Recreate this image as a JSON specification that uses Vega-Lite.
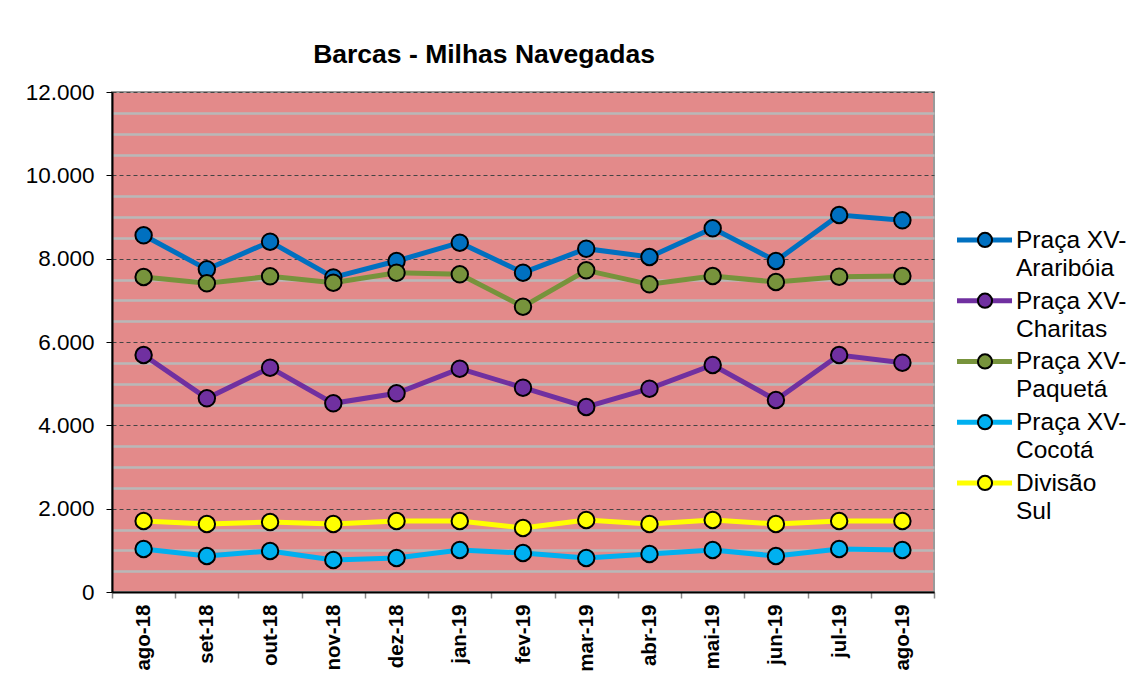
{
  "$schema": "https://vega.github.io/schema/vega-lite/v6.json",
  "background": "white",
  "padding": {"left": 24, "top": 41, "right": 0, "bottom": 0},
  "bounds": "flush",
  "center": true,
  "spacing": 6,
  "title": {
    "text": "Barcas - Milhas Navegadas",
    "font": "Liberation Sans",
    "fontSize": 26.5,
    "fontWeight": "bold",
    "color": "black",
    "anchor": "start",
    "dx": 289,
    "offset": 12
  },
  "config": {
    "font": "Liberation Sans",
    "view": {"stroke": null}
  },
  "datasets": {
    "dados": [
      {"mes": "ago-18", "serie": "Praça XV-Araribóia", "valor": 8561},
      {"mes": "set-18", "serie": "Praça XV-Araribóia", "valor": 7744},
      {"mes": "out-18", "serie": "Praça XV-Araribóia", "valor": 8408},
      {"mes": "nov-18", "serie": "Praça XV-Araribóia", "valor": 7550},
      {"mes": "dez-18", "serie": "Praça XV-Araribóia", "valor": 7944},
      {"mes": "jan-19", "serie": "Praça XV-Araribóia", "valor": 8384},
      {"mes": "fev-19", "serie": "Praça XV-Araribóia", "valor": 7664},
      {"mes": "mar-19", "serie": "Praça XV-Araribóia", "valor": 8240},
      {"mes": "abr-19", "serie": "Praça XV-Araribóia", "valor": 8040},
      {"mes": "mai-19", "serie": "Praça XV-Araribóia", "valor": 8728},
      {"mes": "jun-19", "serie": "Praça XV-Araribóia", "valor": 7944},
      {"mes": "jul-19", "serie": "Praça XV-Araribóia", "valor": 9048},
      {"mes": "ago-19", "serie": "Praça XV-Araribóia", "valor": 8920},
      {"mes": "ago-18", "serie": "Praça XV-Charitas", "valor": 5688},
      {"mes": "set-18", "serie": "Praça XV-Charitas", "valor": 4648},
      {"mes": "out-18", "serie": "Praça XV-Charitas", "valor": 5384},
      {"mes": "nov-18", "serie": "Praça XV-Charitas", "valor": 4528},
      {"mes": "dez-18", "serie": "Praça XV-Charitas", "valor": 4768},
      {"mes": "jan-19", "serie": "Praça XV-Charitas", "valor": 5360},
      {"mes": "fev-19", "serie": "Praça XV-Charitas", "valor": 4904},
      {"mes": "mar-19", "serie": "Praça XV-Charitas", "valor": 4440},
      {"mes": "abr-19", "serie": "Praça XV-Charitas", "valor": 4880},
      {"mes": "mai-19", "serie": "Praça XV-Charitas", "valor": 5448},
      {"mes": "jun-19", "serie": "Praça XV-Charitas", "valor": 4608},
      {"mes": "jul-19", "serie": "Praça XV-Charitas", "valor": 5688},
      {"mes": "ago-19", "serie": "Praça XV-Charitas", "valor": 5504},
      {"mes": "ago-18", "serie": "Praça XV-Paquetá", "valor": 7560},
      {"mes": "set-18", "serie": "Praça XV-Paquetá", "valor": 7408},
      {"mes": "out-18", "serie": "Praça XV-Paquetá", "valor": 7576},
      {"mes": "nov-18", "serie": "Praça XV-Paquetá", "valor": 7424},
      {"mes": "dez-18", "serie": "Praça XV-Paquetá", "valor": 7664},
      {"mes": "jan-19", "serie": "Praça XV-Paquetá", "valor": 7624},
      {"mes": "fev-19", "serie": "Praça XV-Paquetá", "valor": 6848},
      {"mes": "mar-19", "serie": "Praça XV-Paquetá", "valor": 7720},
      {"mes": "abr-19", "serie": "Praça XV-Paquetá", "valor": 7384},
      {"mes": "mai-19", "serie": "Praça XV-Paquetá", "valor": 7584},
      {"mes": "jun-19", "serie": "Praça XV-Paquetá", "valor": 7440},
      {"mes": "jul-19", "serie": "Praça XV-Paquetá", "valor": 7568},
      {"mes": "ago-19", "serie": "Praça XV-Paquetá", "valor": 7584},
      {"mes": "ago-18", "serie": "Praça XV-Cocotá", "valor": 1032},
      {"mes": "set-18", "serie": "Praça XV-Cocotá", "valor": 864},
      {"mes": "out-18", "serie": "Praça XV-Cocotá", "valor": 984},
      {"mes": "nov-18", "serie": "Praça XV-Cocotá", "valor": 768},
      {"mes": "dez-18", "serie": "Praça XV-Cocotá", "valor": 816},
      {"mes": "jan-19", "serie": "Praça XV-Cocotá", "valor": 1008},
      {"mes": "fev-19", "serie": "Praça XV-Cocotá", "valor": 936},
      {"mes": "mar-19", "serie": "Praça XV-Cocotá", "valor": 816},
      {"mes": "abr-19", "serie": "Praça XV-Cocotá", "valor": 912},
      {"mes": "mai-19", "serie": "Praça XV-Cocotá", "valor": 1008},
      {"mes": "jun-19", "serie": "Praça XV-Cocotá", "valor": 864},
      {"mes": "jul-19", "serie": "Praça XV-Cocotá", "valor": 1032},
      {"mes": "ago-19", "serie": "Praça XV-Cocotá", "valor": 1008},
      {"mes": "ago-18", "serie": "Divisão Sul", "valor": 1704},
      {"mes": "set-18", "serie": "Divisão Sul", "valor": 1632},
      {"mes": "out-18", "serie": "Divisão Sul", "valor": 1680},
      {"mes": "nov-18", "serie": "Divisão Sul", "valor": 1632},
      {"mes": "dez-18", "serie": "Divisão Sul", "valor": 1704},
      {"mes": "jan-19", "serie": "Divisão Sul", "valor": 1704},
      {"mes": "fev-19", "serie": "Divisão Sul", "valor": 1536},
      {"mes": "mar-19", "serie": "Divisão Sul", "valor": 1728},
      {"mes": "abr-19", "serie": "Divisão Sul", "valor": 1632},
      {"mes": "mai-19", "serie": "Divisão Sul", "valor": 1728},
      {"mes": "jun-19", "serie": "Divisão Sul", "valor": 1632},
      {"mes": "jul-19", "serie": "Divisão Sul", "valor": 1704},
      {"mes": "ago-19", "serie": "Divisão Sul", "valor": 1704}
    ],
    "legenda": [
      {"serie": "Praça XV-Araribóia", "rotulo": "Praça XV-\nAraribóia"},
      {"serie": "Praça XV-Charitas", "rotulo": "Praça XV-\nCharitas"},
      {"serie": "Praça XV-Paquetá", "rotulo": "Praça XV-\nPaquetá"},
      {"serie": "Praça XV-Cocotá", "rotulo": "Praça XV-\nCocotá"},
      {"serie": "Divisão Sul", "rotulo": "Divisão\nSul"}
    ]
  },
  "hconcat": [
    {
      "width": 822,
      "height": 500,
      "view": {"fill": "#e38a8a", "stroke": "#9a9a9a", "strokeWidth": 2},
      "data": {"name": "dados"},
      "encoding": {
        "x": {
          "field": "mes",
          "type": "nominal",
          "sort": ["ago-18", "set-18", "out-18", "nov-18", "dez-18", "jan-19", "fev-19", "mar-19", "abr-19", "mai-19", "jun-19", "jul-19", "ago-19"],
          "scale": {"type": "band", "paddingInner": 0, "paddingOuter": 0},
          "bandPosition": 0.5,
          "axis": {
            "title": null,
            "labelAngle": -90,
            "labelAlign": "right",
            "labelBaseline": "middle",
            "labelFontSize": 20.5,
            "labelFontWeight": "bold",
            "labelColor": "black",
            "labelPadding": 6,
            "tickBand": "extent",
            "tickSize": 6,
            "tickColor": "#888888",
            "tickWidth": 1.5,
            "domainColor": "black",
            "domainWidth": 2,
            "grid": false
          }
        },
        "y": {
          "field": "valor",
          "type": "quantitative",
          "scale": {"domain": [0, 12000], "nice": false},
          "axis": {
            "title": null,
            "values": [0, 500, 1000, 1500, 2000, 2500, 3000, 3500, 4000, 4500, 5000, 5500, 6000, 6500, 7000, 7500, 8000, 8500, 9000, 9500, 10000, 10500, 11000, 11500, 12000],
            "labelExpr": "datum.value % 2000 === 0 ? replace(format(datum.value, ','), ',', '.') : ''",
            "labelFontSize": 22.5,
            "labelColor": "black",
            "labelPadding": 12,
            "tickSize": 6,
            "tickColor": "black",
            "tickOpacity": {"condition": {"test": "datum.value % 2000 === 0", "value": 1}, "value": 0},
            "domainColor": "black",
            "domainWidth": 2,
            "grid": true,
            "gridColor": {"condition": {"test": "datum.value % 2000 === 0", "value": "#444444"}, "value": "#b8b8b8"},
            "gridWidth": {"condition": {"test": "datum.value % 2000 === 0", "value": 1}, "value": 2.5},
            "gridDash": {"condition": {"test": "datum.value % 2000 === 0", "value": [4, 3]}, "value": []}
          }
        },
        "color": {
          "field": "serie",
          "type": "nominal",
          "scale": {
            "domain": ["Praça XV-Araribóia", "Praça XV-Charitas", "Praça XV-Paquetá", "Praça XV-Cocotá", "Divisão Sul"],
            "range": ["#0070C0", "#7030A0", "#77933C", "#00B0F0", "#FFFF00"]
          },
          "legend": null
        }
      },
      "layer": [
        {"mark": {"type": "line", "strokeWidth": 5}},
        {"mark": {"type": "point", "filled": true, "opacity": 1, "stroke": "black", "strokeWidth": 2, "size": 270}}
      ]
    },
    {
      "width": 190,
      "height": 364.5,
      "data": {"name": "legenda"},
      "encoding": {
        "y": {
          "field": "serie",
          "type": "nominal",
          "sort": null,
          "scale": {"type": "point", "padding": 1, "align": 0.66},
          "axis": null
        },
        "color": {"field": "serie", "type": "nominal", "legend": null}
      },
      "layer": [
        {
          "mark": {"type": "rule", "strokeWidth": 5},
          "encoding": {
            "x": {"datum": 17, "type": "quantitative", "scale": {"domain": [0, 190]}, "axis": null},
            "x2": {"datum": 72}
          }
        },
        {
          "mark": {"type": "point", "filled": true, "opacity": 1, "stroke": "black", "strokeWidth": 2, "size": 200},
          "encoding": {
            "x": {"datum": 45, "type": "quantitative", "scale": {"domain": [0, 190]}, "axis": null}
          }
        },
        {
          "mark": {"type": "text", "align": "left", "baseline": "alphabetic", "dy": 8, "fontSize": 24.5, "lineHeight": 28, "lineBreak": "\n", "color": "black"},
          "encoding": {
            "x": {"datum": 76, "type": "quantitative", "scale": {"domain": [0, 190]}, "axis": null},
            "text": {"field": "rotulo"},
            "color": {"value": "black"}
          }
        }
      ]
    }
  ]
}
